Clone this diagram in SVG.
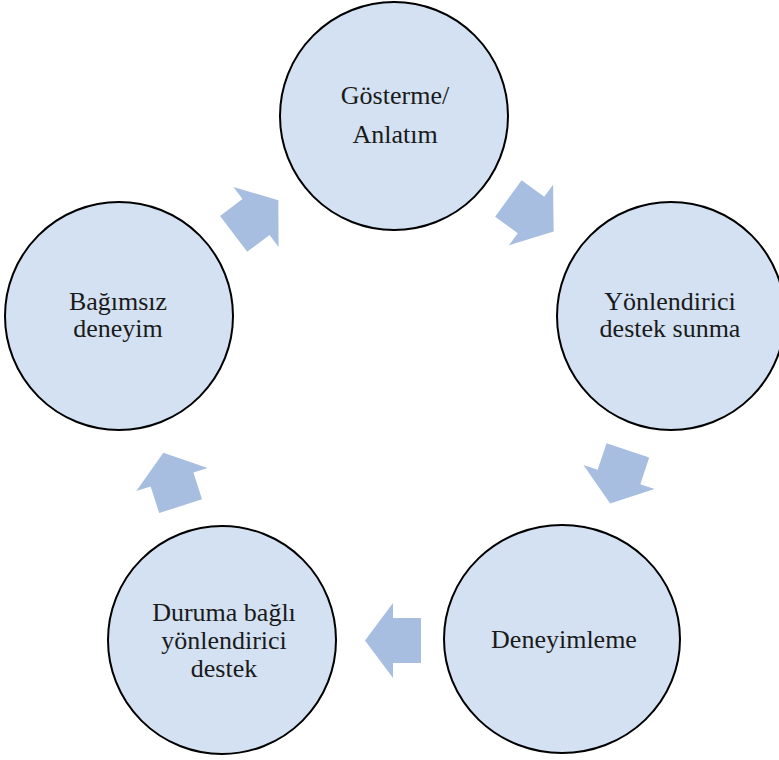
<svg xmlns="http://www.w3.org/2000/svg" width="779" height="760" viewBox="0 0 779 760">
<style>
.node{fill:#d3e1f2;stroke:#000;stroke-width:2}
.lbl{font-family:"Liberation Serif","Times New Roman",serif;font-size:26px;fill:#1a1a1a;text-anchor:middle}
.arr{fill:#a7bee1}
</style>
<defs>
<path id="ar" d="M28,0 L0,-37.5 L0,-22.5 L-28,-22.5 L-28,22.5 L0,22.5 L0,37.5 Z"/>
</defs>
<rect width="779" height="760" fill="#fff"/>
<g id="connectors">
<use href="#ar" class="arr" transform="translate(531,215) rotate(36)"/>
<use href="#ar" class="arr" transform="translate(619,477) rotate(108.5)"/>
<use href="#ar" class="arr" transform="translate(393,640.5) rotate(180)"/>
<use href="#ar" class="arr" transform="translate(172,479.5) rotate(-108)"/>
<use href="#ar" class="arr" transform="translate(256,217) rotate(-37)"/>
</g>
<g id="n1">
<circle class="node" cx="394" cy="116" r="114"/>
<text class="lbl" x="395" y="104">Gösterme/</text>
<text class="lbl" x="395" y="143">Anlatım</text>
</g>
<g id="n2">
<circle class="node" cx="671" cy="316" r="114"/>
<text class="lbl" x="670" y="310">Yönlendirici</text>
<text class="lbl" x="670" y="337">destek sunma</text>
</g>
<g id="n3">
<ellipse class="node" cx="562" cy="639" rx="118" ry="114"/>
<text class="lbl" x="564" y="648">Deneyimleme</text>
</g>
<g id="n4">
<circle class="node" cx="222" cy="640" r="114"/>
<text class="lbl" x="224" y="621">Duruma bağlı</text>
<text class="lbl" x="224" y="649">yönlendirici</text>
<text class="lbl" x="224" y="677">destek</text>
</g>
<g id="n5">
<circle class="node" cx="119" cy="316" r="114"/>
<text class="lbl" x="118" y="310">Bağımsız</text>
<text class="lbl" x="118" y="337">deneyim</text>
</g>
</svg>
